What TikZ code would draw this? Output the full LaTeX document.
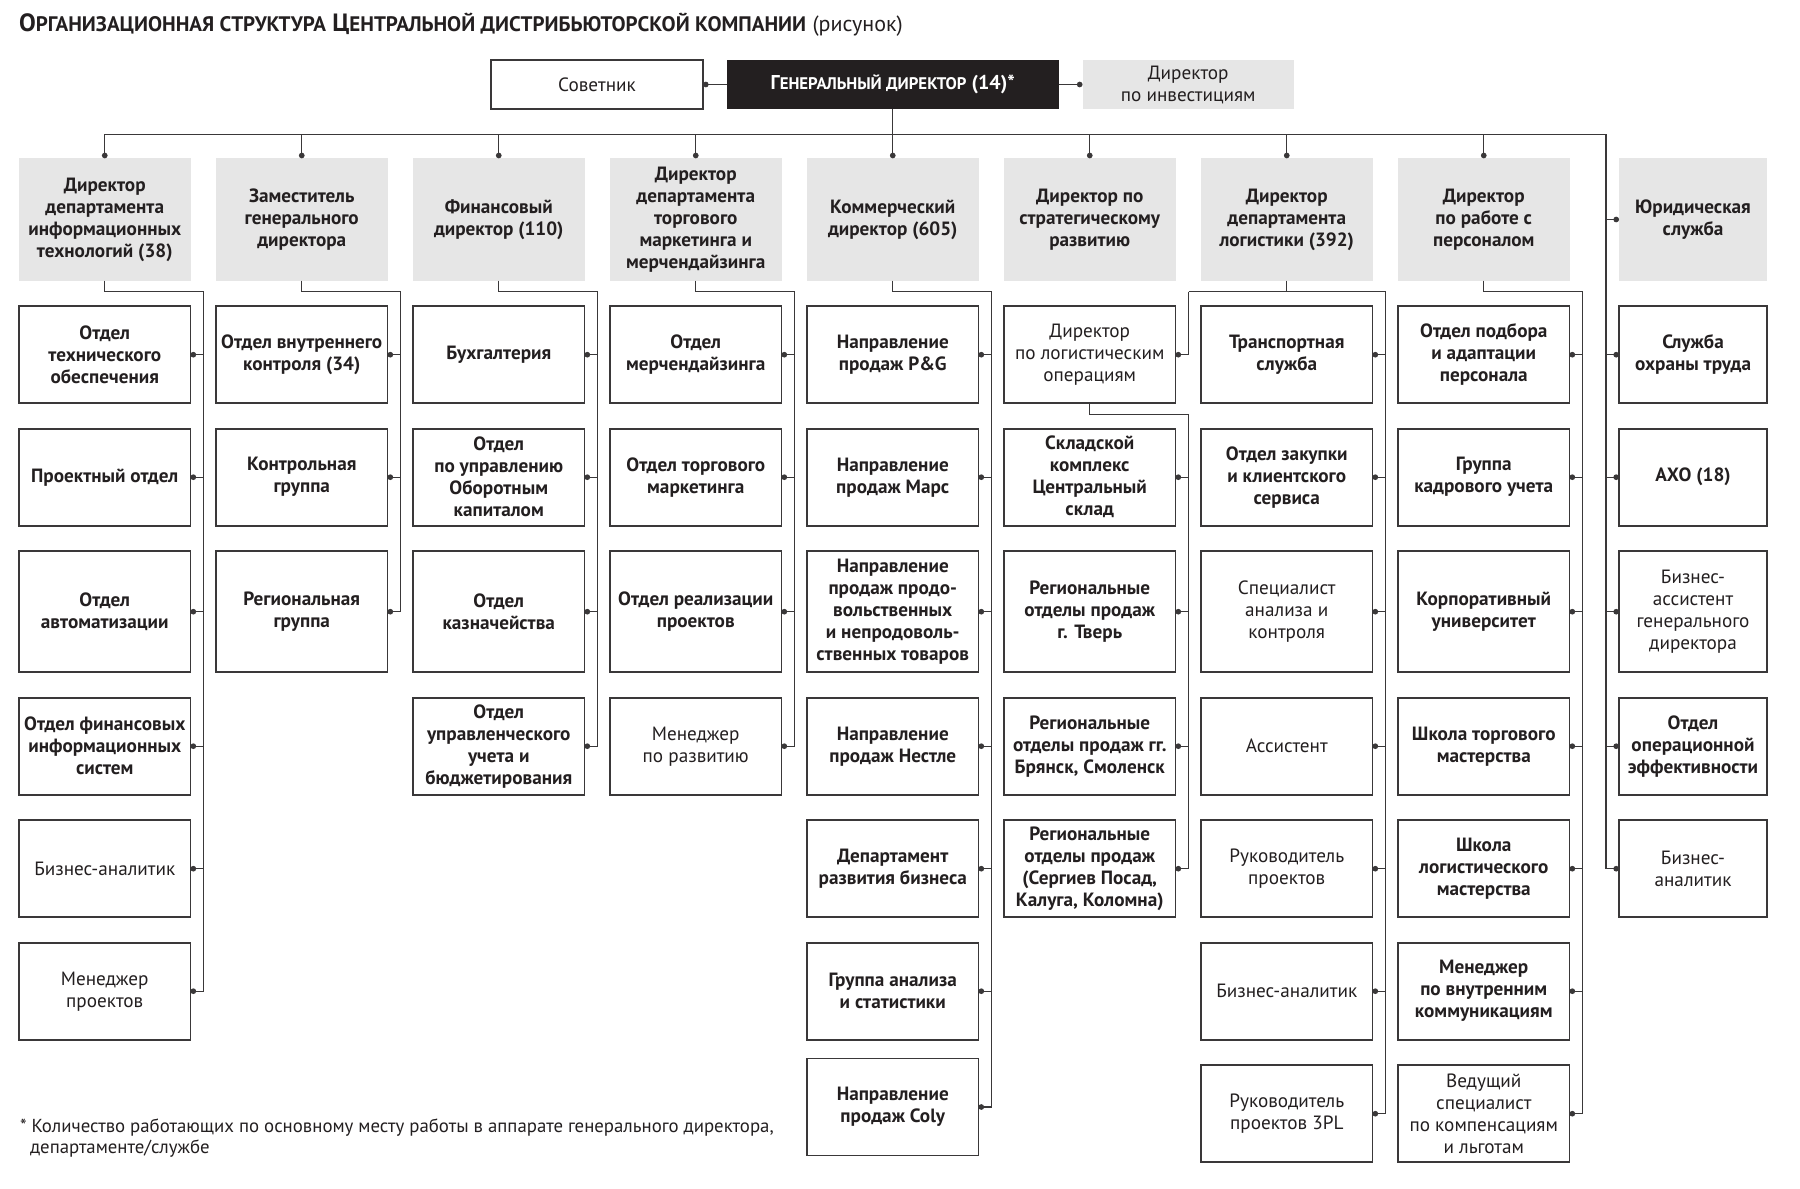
\documentclass[tikz,border=0pt]{standalone}
\usepackage{fontspec}
\setmainfont{PT Sans}
\usetikzlibrary{positioning,arrows.meta}
\definecolor{lineclr}{RGB}{58,56,57}
\definecolor{headclr}{RGB}{230,230,230}
\definecolor{bossclr}{RGB}{35,31,32}
\definecolor{txtclr}{RGB}{35,31,32}
\newcommand{\smc}[1]{{\fontsize{10.5}{10.5}\selectfont #1}}
\newcommand{\bsmc}[1]{{\fontsize{8.4}{8.4}\selectfont #1}}
\tikzset{ %
  ,>={Circle[length=2.8pt]}
  ,every node/.style={font=\fontsize{9.6}{11}\selectfont, text=txtclr, align=center, inner sep=0, outer sep=0}
  ,head/.style={fill=headclr, minimum width=85.75pt, minimum height=61.2pt, font=\fontsize{9.6}{11}\selectfont\bfseries}
  ,unit/.style={draw=lineclr, line width=0.8pt, fill=white, minimum width=85.75pt, minimum height=48.5pt, font=\fontsize{9.6}{11}\selectfont\bfseries}
  ,staff/.style={unit, font=\fontsize{9.6}{11}\selectfont}
  ,tall/.style={minimum height=60.5pt}
  ,narrow/.style={minimum width=74pt}
  ,link/.style={draw=lineclr, line width=0.7pt}
}

\begin{document}
\begin{tikzpicture}[x=0.5pt, y=-0.5pt, node distance=12.75pt]
  \useasboundingbox (0,0) rectangle (1800,1189);

  % title and footnote
  \node[anchor=west, align=left, font=\bfseries\fontsize{12.5}{13}\selectfont] (title) at (19,25)
    {О\smc{РГАНИЗАЦИОННАЯ СТРУКТУРА} Ц\smc{ЕНТРАЛЬНОЙ ДИСТРИБЬЮТОРСКОЙ КОМПАНИИ} {\mdseries\fontsize{11}{12}\selectfont(рисунок)}};
  \node[anchor=north west, align=left, font=\fontsize{9.4}{10.5}\selectfont] (note) at (20,1119)
    {* Количество работающих по основному месту работы в аппарате генерального директора,\\
     \ \ департаменте/службе};

  % directors
  \node[head, anchor=north west] (h1) at (19,158.3) {Директор\\департамента\\информационных\\технологий (38)};
  \node[head, right=of h1] (h2) {Заместитель\\генерального\\директора};
  \node[head, right=of h2] (h3) {Финансовый\\директор (110)};
  \node[head, right=of h3] (h4) {Директор\\департамента\\торгового\\маркетинга и\\мерчендайзинга};
  \node[head, right=of h4] (h5) {Коммерческий\\директор (605)};
  \node[head, right=of h5] (h6) {Директор по\\стратегическому\\развитию};
  \node[head, right=of h6] (h7) {Директор\\департамента\\логистики (392)};
  \node[head, right=of h7] (h8) {Директор\\по работе с\\персоналом};
  \node[head, narrow, right=24.75pt of h8] (h9) {Юридическая\\служба};

  % top row
  \node[fill=bossclr, minimum width=165.75pt, minimum height=24.5pt, text=white,
        font=\bfseries\fontsize{10}{11}\selectfont, above=24.65pt of h5] (gen) {Г\bsmc{ЕНЕРАЛЬНЫЙ ДИРЕКТОР} (14)*};
  \node[staff, minimum width=106pt, minimum height=24.5pt, left=12pt of gen] (sov) {Советник};
  \node[head, minimum width=105.7pt, minimum height=24.5pt, font=\fontsize{9.6}{11}\selectfont, right=12pt of gen] (inv) {Директор\\по инвестициям};

  % column 1
  \node[unit, below=of h1] (c11) {Отдел\\технического\\обеспечения};
  \node[unit, below=of c11] (c12) {Проектный отдел};
  \node[unit, tall, below=of c12] (c13) {Отдел\\автоматизации};
  \node[unit, below=of c13] (c14) {Отдел финансовых\\информационных\\систем};
  \node[staff, below=of c14] (c15) {Бизнес-аналитик};
  \node[staff, below=of c15] (c16) {Менеджер\\проектов};

  % column 2
  \node[unit, below=of h2] (c21) {Отдел внутреннего\\контроля (34)};
  \node[unit, below=of c21] (c22) {Контрольная\\группа};
  \node[unit, tall, below=of c22] (c23) {Региональная\\группа};

  % column 3
  \node[unit, below=of h3] (c31) {Бухгалтерия};
  \node[unit, below=of c31] (c32) {Отдел\\по управлению\\Оборотным\\капиталом};
  \node[unit, tall, below=of c32] (c33) {Отдел\\казначейства};
  \node[unit, below=of c33] (c34) {Отдел\\управленческого\\учета и\\бюджетирования};

  % column 4
  \node[unit, below=of h4] (c41) {Отдел\\мерчендайзинга};
  \node[unit, below=of c41] (c42) {Отдел торгового\\маркетинга};
  \node[unit, tall, below=of c42] (c43) {Отдел реализации\\проектов};
  \node[staff, below=of c43] (c44) {Менеджер\\по развитию};

  % column 5
  \node[unit, below=of h5] (c51) {Направление\\продаж P\&G};
  \node[unit, below=of c51] (c52) {Направление\\продаж Марс};
  \node[unit, tall, below=of c52] (c53) {Направление\\продаж продо-\\вольственных\\и непродоволь-\\ственных товаров};
  \node[unit, below=of c53] (c54) {Направление\\продаж Нестле};
  \node[unit, below=of c54] (c55) {Департамент\\развития бизнеса};
  \node[unit, below=of c55] (c56) {Группа анализа\\и статистики};
  \node[unit, below=9.4pt of c56] (c57) {Направление\\продаж Coly};

  % column 6
  \node[staff, below=of h6] (c61) {Директор\\по логистическим\\операциям};
  \node[unit, below=of c61] (c62) {Складской\\комплекс\\Центральный\\склад};
  \node[unit, tall, below=of c62] (c63) {Региональные\\отделы продаж\\г. Тверь};
  \node[unit, below=of c63] (c64) {Региональные\\отделы продаж гг.\\Брянск, Смоленск};
  \node[unit, below=of c64] (c65) {Региональные\\отделы продаж\\(Сергиев Посад,\\Калуга, Коломна)};

  % column 7
  \node[unit, below=of h7] (c71) {Транспортная\\служба};
  \node[unit, below=of c71] (c72) {Отдел закупки\\и клиентского\\сервиса};
  \node[staff, tall, below=of c72] (c73) {Специалист\\анализа и\\контроля};
  \node[staff, below=of c73] (c74) {Ассистент};
  \node[staff, below=of c74] (c75) {Руководитель\\проектов};
  \node[staff, below=of c75] (c76) {Бизнес-аналитик};
  \node[staff, below=of c76] (c77) {Руководитель\\проектов 3PL};

  % column 8
  \node[unit, below=of h8] (c81) {Отдел подбора\\и адаптации\\персонала};
  \node[unit, below=of c81] (c82) {Группа\\кадрового учета};
  \node[unit, tall, below=of c82] (c83) {Корпоративный\\университет};
  \node[unit, below=of c83] (c84) {Школа торгового\\мастерства};
  \node[unit, below=of c84] (c85) {Школа\\логистического\\мастерства};
  \node[unit, below=of c85] (c86) {Менеджер\\по внутренним\\коммуникациям};
  \node[staff, below=of c86] (c87) {Ведущий\\специалист\\по компенсациям\\и льготам};

  % column 9
  \node[unit, narrow, below=of h9] (c91) {Служба\\охраны труда};
  \node[unit, narrow, below=of c91] (c92) {АХО (18)};
  \node[staff, narrow, tall, below=of c92] (c93) {Бизнес-\\ассистент\\генерального\\директора};
  \node[unit, narrow, below=of c93] (c94) {Отдел\\операционной\\эффективности};
  \node[staff, narrow, below=of c94] (c95) {Бизнес-\\аналитик};

  % links from the top
  \coordinate (bus) at ([yshift=12pt]h1.north);
  \coordinate (leg) at ([xshift=-6.5pt]h9.west);
  \draw[link,->] (gen.west) -- (sov.east);
  \draw[link,->] (gen.east) -- (inv.west);
  \draw[link,->] (gen.south) -- (h5.north);
  \draw[link] (h1.north |- bus) -| (leg |- c95.west);
  \foreach \cl in {1,2,3,4,6,7,8}
    \draw[link,->] (h\cl.north |- bus) -- (h\cl.north);
  \foreach \n in {h9,c91,c92,c93,c94,c95}
    \draw[link,->] (leg |- \n.west) -- (\n.west);

  % links inside the columns
  \foreach \cl/\nr in {1/6,2/3,3/4,4/4,5/7,8/7} {
    \coordinate (b\cl) at ([xshift=6.5pt,yshift=-5.5pt]h\cl.south east);
    \draw[link] (h\cl.south) |- (b\cl) -- (b\cl |- c\cl\nr.east);
    \foreach \rw in {1,...,\nr}
      \draw[link,->] (b\cl |- c\cl\rw.east) -- (c\cl\rw.east);
  }

  % logistics
  \coordinate (b7) at ([xshift=6.5pt,yshift=-5.5pt]h7.south east);
  \coordinate (b6) at ([xshift=6.5pt]h6.south east |- b7);
  \draw[link] (h7.south) -- (h7.south |- b7);
  \draw[link] (b6) -- (b7) -- (b7 |- c77.east);
  \draw[link,->] (b6) |- (c61.east);
  \foreach \rw in {1,...,7}
    \draw[link,->] (b7 |- c7\rw.east) -- (c7\rw.east);
  \coordinate (s6) at ([xshift=6.5pt,yshift=-5.5pt]c61.south east);
  \draw[link] (c61.south) |- (s6) -- (s6 |- c65.east);
  \foreach \rw in {2,...,5}
    \draw[link,->] (s6 |- c6\rw.east) -- (c6\rw.east);
\end{tikzpicture}
\end{document}
